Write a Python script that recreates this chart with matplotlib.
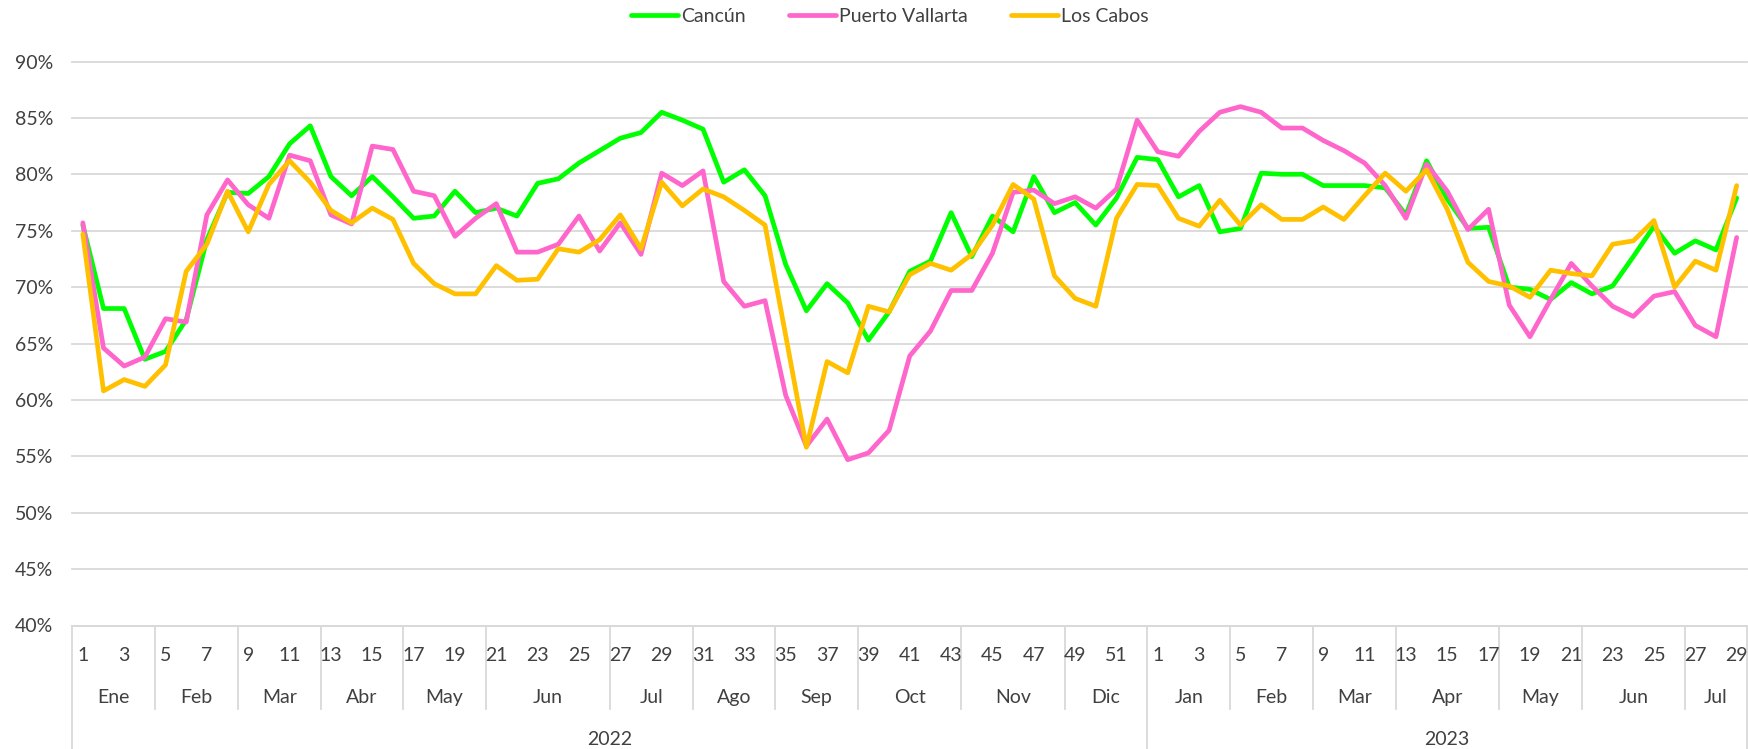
import matplotlib
matplotlib.use("Agg")
import matplotlib.pyplot as plt
from matplotlib.ticker import PercentFormatter
import numpy as np

plt.rcParams['font.family'] = ['Lato', 'DejaVu Sans']

# Weekly hotel occupancy (%), 2022 weeks 1-52 and 2023 weeks 1-29
cancun_2022 = [75.5, 68.1, 68.1, 63.6, 64.3, 67.1, 74.2, 78.4, 78.3, 79.8, 82.7, 84.3, 79.8,
               78.1, 79.8, 78.0, 76.1, 76.3, 78.5, 76.6, 77.0, 76.3, 79.2, 79.6, 81.0, 82.1,
               83.2, 83.7, 85.5, 84.8, 84.0, 79.3, 80.4, 78.1, 72.0, 67.9, 70.3, 68.6, 65.3,
               67.8, 71.4, 72.3, 76.6, 72.7, 76.3, 74.9, 79.8, 76.6, 77.5, 75.5, 77.9, 81.5]
cancun_2023 = [81.3, 78.0, 79.0, 74.9, 75.2, 80.1, 80.0, 80.0, 79.0, 79.0, 79.0, 78.8, 76.4,
               81.2, 77.8, 75.2, 75.3, 70.0, 69.8, 68.9, 70.4, 69.4, 70.1, 72.7, 75.4, 73.0,
               74.1, 73.3, 77.9]

vallarta_2022 = [75.7, 64.6, 63.0, 63.8, 67.2, 66.9, 76.4, 79.5, 77.3, 76.1, 81.7, 81.2, 76.4,
                 75.6, 82.5, 82.2, 78.5, 78.1, 74.5, 76.1, 77.4, 73.1, 73.1, 73.8, 76.3, 73.2,
                 75.7, 72.9, 80.1, 79.0, 80.3, 70.5, 68.3, 68.8, 60.4, 55.9, 58.3, 54.7, 55.3,
                 57.3, 63.9, 66.1, 69.7, 69.7, 73.0, 78.4, 78.6, 77.4, 78.0, 77.0, 78.7, 84.8]
vallarta_2023 = [82.0, 81.6, 83.8, 85.5, 86.0, 85.5, 84.1, 84.1, 83.0, 82.1, 81.0, 79.0, 76.1,
                 80.9, 78.5, 75.1, 76.9, 68.4, 65.6, 68.9, 72.1, 70.1, 68.3, 67.4, 69.2, 69.6,
                 66.6, 65.6, 74.4]

cabos_2022 = [74.7, 60.8, 61.8, 61.2, 63.1, 71.4, 73.8, 78.5, 74.9, 79.1, 81.2, 79.3, 76.8,
              75.7, 77.0, 76.0, 72.1, 70.3, 69.4, 69.4, 71.9, 70.6, 70.7, 73.4, 73.1, 74.2,
              76.4, 73.4, 79.3, 77.2, 78.7, 78.0, 76.8, 75.5, 65.7, 55.8, 63.4, 62.4, 68.3,
              67.8, 71.1, 72.1, 71.5, 72.9, 75.5, 79.1, 77.8, 71.0, 69.0, 68.3, 76.1, 79.1]
cabos_2023 = [79.0, 76.1, 75.4, 77.7, 75.5, 77.3, 76.0, 76.0, 77.1, 76.0, 78.1, 80.1, 78.5,
              80.4, 76.9, 72.2, 70.5, 70.1, 69.1, 71.5, 71.2, 71.0, 73.8, 74.1, 75.9, 70.0,
              72.3, 71.5, 79.0]

years = ['2022', '2023']
months_2022 = ['Ene', 'Feb', 'Mar', 'Abr', 'May', 'Jun', 'Jul', 'Ago', 'Sep', 'Oct', 'Nov', 'Dic']
weeks_in_month_2022 = [4, 4, 4, 4, 4, 6, 4, 4, 4, 5, 5, 4]
months_2023 = ['Jan', 'Feb', 'Mar', 'Apr', 'May', 'Jun', 'Jul']
weeks_in_month_2023 = [4, 4, 4, 5, 4, 5, 3]

series_names = ['Cancún', 'Puerto Vallarta', 'Los Cabos']
series_colors = ['#00FF00', '#FF66CC', '#FFC000']

week_numbers = list(range(1, 53)) + list(range(1, 30))
series = [np.array(cancun_2022 + cancun_2023) / 100,
          np.array(vallarta_2022 + vallarta_2023) / 100,
          np.array(cabos_2022 + cabos_2023) / 100]
n = len(week_numbers)
x = np.arange(n)

W, H = 1749, 749
fig = plt.figure(figsize=(W / 100, H / 100), dpi=100)
ax_left, ax_right, ax_top, ax_bottom = 72.5, 1747, 61.5, 625.5
ax = fig.add_axes([ax_left / W, 1 - ax_bottom / H, (ax_right - ax_left) / W, (ax_bottom - ax_top) / H])

text_color = '#404040'
grid_color = '#D9D9D9'

for vals, name, col in zip(series, series_names, series_colors):
    ax.plot(x, vals, color=col, lw=3.4, label=name, solid_joinstyle='round', solid_capstyle='round')

ax.set_xlim(-0.5, n - 0.5)
ax.set_ylim(0.40, 0.90)
ax.set_yticks(np.arange(0.40, 0.901, 0.05))
ax.yaxis.set_major_formatter(PercentFormatter(1.0, decimals=0))
ax.tick_params(axis='y', length=0, pad=14, labelsize=14, labelcolor=text_color)
ax.set_xticks([])
ax.grid(axis='y', color=grid_color, lw=1.3)
ax.set_axisbelow(True)
for gl in ax.get_ygridlines():
    gl.set_clip_on(False)
for s in ['top', 'right', 'left']:
    ax.spines[s].set_visible(False)
ax.spines['bottom'].set_color(grid_color)
ax.spines['bottom'].set_linewidth(1.3)

# Multi-level category axis: week / month / year
trans = ax.get_xaxis_transform()
ah = ax_bottom - ax_top


def ay(px):
    return (ax_bottom - px) / ah


week_y, month_y, year_y = ay(661), ay(703), ay(745)
month_sep_bottom, year_sep_bottom = ay(709), ay(749)

for i, wk in enumerate(week_numbers):
    if wk % 2 == 1:
        ax.text(i, week_y, str(wk), transform=trans, ha='center', va='baseline',
                fontsize=14, color=text_color)

start = 0
for yr, mnames, mweeks in zip(years, [months_2022, months_2023],
                              [weeks_in_month_2022, weeks_in_month_2023]):
    ystart = start
    for mname, nw in zip(mnames, mweeks):
        ax.text(start + (nw - 1) / 2, month_y, mname, transform=trans, ha='center',
                va='baseline', fontsize=14, color=text_color)
        if start != ystart:
            ax.plot([start - 0.5, start - 0.5], [0, month_sep_bottom], transform=trans,
                    color=grid_color, lw=1.3, clip_on=False)
        start += nw
    ax.text((ystart + start - 1) / 2, year_y, yr, transform=trans, ha='center',
            va='baseline', fontsize=14, color=text_color)
    ax.plot([ystart - 0.5, ystart - 0.5], [0, year_sep_bottom], transform=trans,
            color=grid_color, lw=1.3, clip_on=False)
ax.plot([start - 0.5, start - 0.5], [0, year_sep_bottom], transform=trans,
        color=grid_color, lw=1.3, clip_on=False)

fig.legend(loc='center', bbox_to_anchor=(890 / W, 1 - 16 / H), ncol=3, frameon=False,
           fontsize=14, handlelength=2.4, handletextpad=0.2, columnspacing=2.2,
           labelcolor=text_color)

fig.savefig('out.png', dpi=100, facecolor='white')
